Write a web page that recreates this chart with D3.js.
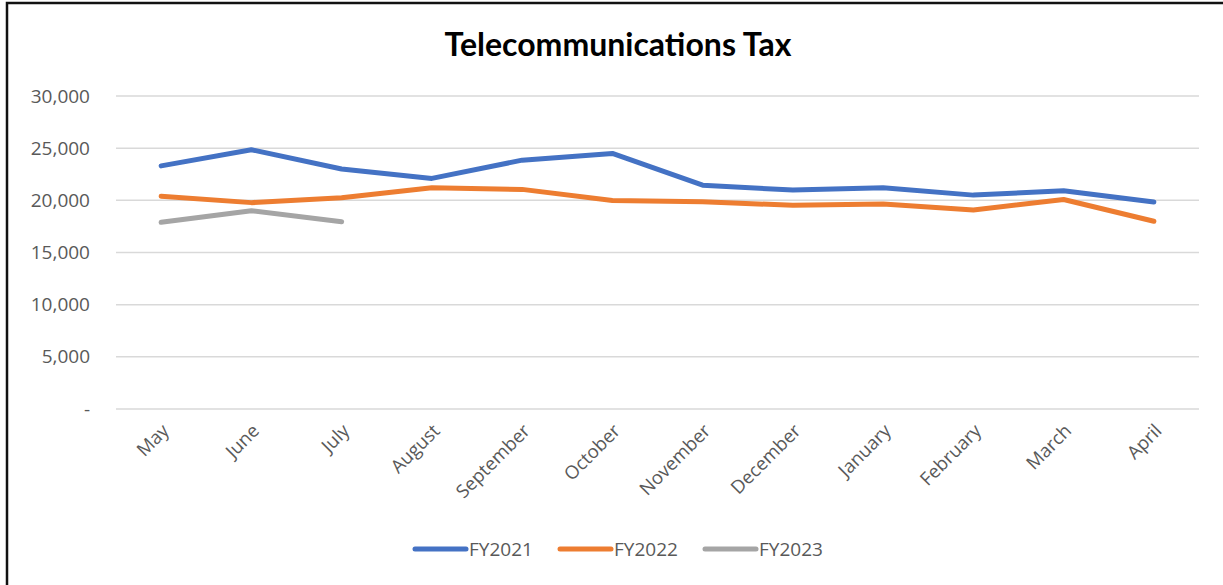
<!DOCTYPE html>
<meta charset="utf-8">
<script src="https://d3js.org/d3.v7.min.js"></script>
<body style="margin:0; background:#fff">
<div id="chart"></div>
</body>
<script>
    // Chart data
    var months = ["May", "June", "July", "August", "September", "October",
                  "November", "December", "January", "February", "March", "April"];
    var fy2021 = [23300, 24850, 23000, 22100, 23850, 24500, 21450, 20980, 21200, 20500, 20920, 19840];
    var fy2022 = [20400, 19780, 20250, 21200, 21050, 19980, 19870, 19520, 19650, 19070, 20080, 17990];
    var fy2023 = [17890, 19000, 17950];
    var seriesNames = ["FY2021", "FY2022", "FY2023"];
    var yTicks = [0, 5000, 10000, 15000, 20000, 25000, 30000];

    var colors = ["#4472C4", "#ED7D31", "#A5A5A5"];
    var allSeries = [fy2021, fy2022, fy2023];

    var W = 1223, H = 585;
    var svg = d3.select("#chart").append("svg")
        .attr("width", W).attr("height", H);

    // outer frame
    svg.append("rect")
        .attr("x", 7).attr("y", 3)
        .attr("width", W + 20).attr("height", H + 20)
        .attr("fill", "white")
        .attr("stroke", "#111").attr("stroke-width", 2.5);

    // title
    svg.append("text")
        .attr("x", 618).attr("y", 56)
        .attr("text-anchor", "middle")
        .style("font-family", "Lato, 'Liberation Sans', sans-serif")
        .style("font-weight", "bold")
        .style("font-size", "32px")
        .attr("fill", "#000")
        .text("Telecommunications Tax");

    // scales
    var x = d3.scaleBand().domain(months).range([116, 1199]);
    var y = d3.scaleLinear().domain([0, 30000]).range([409, 96]);

    // gridlines
    svg.append("g").selectAll("line")
        .data(yTicks).enter().append("line")
        .attr("x1", 116).attr("x2", 1199)
        .attr("y1", function (d) { return y(d); })
        .attr("y2", function (d) { return y(d); })
        .attr("stroke", "#D9D9D9").attr("stroke-width", 1.5);

    // Y axis labels
    var fmt = d3.format(",");
    var yAxis = svg.append("g")
        .attr("transform", "translate(90,0)")
        .call(d3.axisLeft(y).tickValues(yTicks).tickSize(0).tickPadding(0)
            .tickFormat(function (d) { return d === 0 ? "-  " : fmt(d); }));
    yAxis.select(".domain").remove();
    yAxis.selectAll("text")
        .style("font-family", "'Open Sans', sans-serif")
        .style("font-size", "19px")
        .attr("fill", "#595959");

    // X axis labels
    var xAxis = svg.append("g")
        .attr("transform", "translate(0,409)")
        .call(d3.axisBottom(x).tickSize(0).tickPadding(0));
    xAxis.select(".domain").remove();
    xAxis.selectAll("text")
        .style("font-family", "'Open Sans', sans-serif")
        .style("font-size", "18.5px")
        .attr("fill", "#595959")
        .attr("text-anchor", "end")
        .attr("dy", null)
        .attr("y", 0)
        .attr("transform", "translate(9,23) rotate(-45)");

    // lines
    var line = d3.line()
        .x(function (d, i) { return x(months[i]) + x.bandwidth() / 2; })
        .y(function (d) { return y(d); });

    svg.append("g").selectAll("path")
        .data(allSeries).enter().append("path")
        .attr("d", function (d) { return line(d); })
        .attr("fill", "none")
        .attr("stroke", function (d, i) { return colors[i]; })
        .attr("stroke-width", 5)
        .attr("stroke-linecap", "round")
        .attr("stroke-linejoin", "round");

    // legend
    var legendX = [415, 560, 705];
    var legend = svg.append("g").selectAll("g")
        .data(seriesNames).enter().append("g")
        .attr("transform", function (d, i) { return "translate(" + legendX[i] + ",549)"; });
    legend.append("line")
        .attr("x1", 0).attr("x2", 51)
        .attr("stroke", function (d, i) { return colors[i]; })
        .attr("stroke-width", 5)
        .attr("stroke-linecap", "round");
    legend.append("text")
        .attr("x", 54).attr("dy", "0.35em")
        .style("font-family", "'Open Sans', sans-serif")
        .style("font-size", "19px")
        .attr("fill", "#595959")
        .text(function (d) { return d; });
</script>
